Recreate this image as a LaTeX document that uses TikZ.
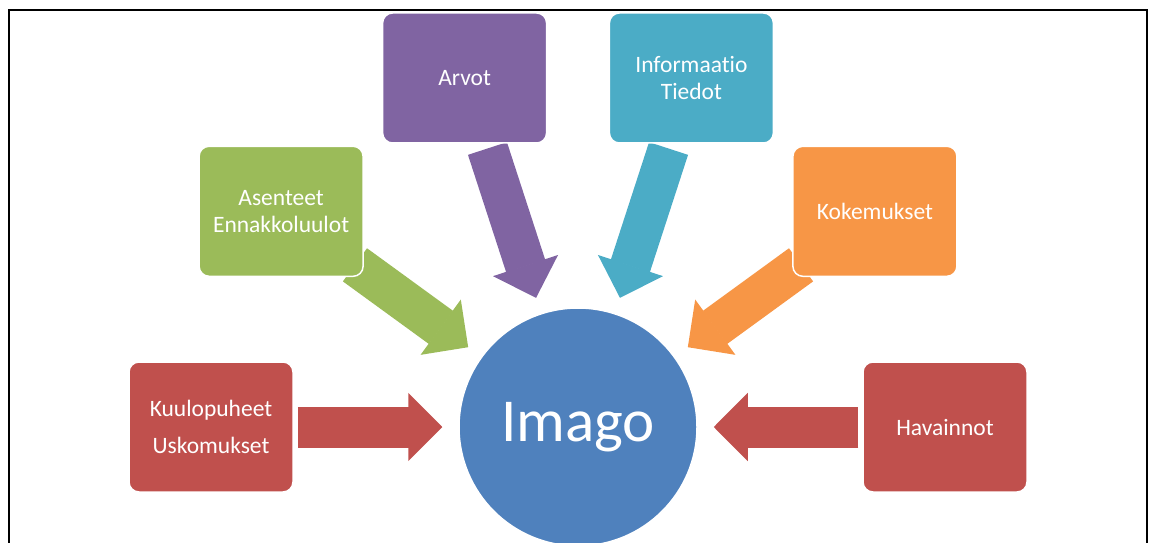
\documentclass[tikz,border=0pt]{standalone}
\usepackage{fontspec}
\setmainfont{Carlito}[Ligatures={NoCommon,NoContextual}]
\usetikzlibrary{arrows.meta,backgrounds}
\definecolor{imred}{HTML}{C0504D}
\definecolor{imgreen}{HTML}{9BBB59}
\definecolor{impurple}{HTML}{8064A2}
\definecolor{imcyan}{HTML}{4BACC6}
\definecolor{imorange}{HTML}{F79646}
\definecolor{imblue}{HTML}{4F81BD}

\begin{document}
\begin{tikzpicture}[x=1pt, y=1pt,
  imbox/.style={rectangle, rounded corners=10pt, fill=#1, draw=white, line width=1.5pt, minimum width=164pt, minimum height=130pt, text=white, align=center, font={\fontsize{23.5}{27}\selectfont}},
  imhub/.style={circle, fill=imblue, draw=white, line width=1.5pt, minimum size=238pt, inner sep=0pt, text=white, font={\fontsize{61}{70}\selectfont}},
  imarrow/.style={draw=#1, line width=41pt, -{Triangle[width=68pt, length=34pt, line width=2pt]}, shorten >=16pt}
]
\useasboundingbox (0,0) rectangle (1149,542);
\clip (0,0) rectangle (1149,542);
\draw[line width=2pt] (9,532) rectangle (1147,-20);
\node[imhub] (imago) at (578,115) {Imago};
\node[imbox=imred] (kuulo) at (211,115) {Kuulopuheet\\[10pt]Uskomukset};
\node[imbox=imgreen] (asen) at (281.1,330.7) {Asenteet\\Ennakkoluulot};
\node[imbox=impurple] (arvot) at (464.6,464) {Arvot};
\node[imbox=imcyan] (info) at (691.4,464) {Informaat\kern0pt{}io\\Tiedot};
\node[imbox=imorange] (koke) at (874.9,330.7) {Kokemukset};
\node[imbox=imred] (havain) at (945,115) {Havainnot};
\begin{scope}[on background layer]
\draw[imarrow=imred, shorten <=4pt] (kuulo) -- (imago);
\draw[imarrow=imgreen, shorten <=-11pt] (asen) -- (imago);
\draw[imarrow=impurple, shorten <=5pt] (arvot) -- (imago);
\draw[imarrow=imcyan, shorten <=5pt] (info) -- (imago);
\draw[imarrow=imorange, shorten <=-11pt] (koke) -- (imago);
\draw[imarrow=imred, shorten <=4pt] (havain) -- (imago);
\end{scope}
\end{tikzpicture}
\end{document}
